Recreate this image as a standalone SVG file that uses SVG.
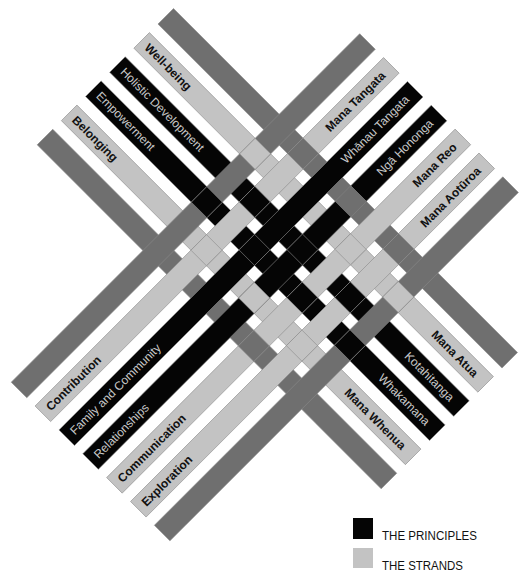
<svg xmlns="http://www.w3.org/2000/svg" width="520" height="571" viewBox="0 0 520 571">
  <style>
    .dg { fill: #6f6f6f; }
    .lt { fill: #c3c3c3; }
    .bk { fill: #050505; }
    .edge { stroke: #8c8c8c; stroke-width: 0.6; }
    .strand { font-family: "Liberation Sans", Arial, sans-serif; font-size: 12px; font-weight: bold; fill: #111; }
    .principle { font-family: "Liberation Sans", Arial, sans-serif; font-size: 12px; fill: #c9c9c9; }
    .key { font-family: "Liberation Sans", Arial, sans-serif; font-size: 12px; fill: #111; }
  </style>
  <rect width="520" height="571" fill="#fff"/>

  <!-- woven mat, drawn in a frame turned 45 degrees: x runs down-right, y runs down-left -->
  <g id="mat" transform="rotate(45)">
    <!-- strips running down-right -->
    <g id="strip-a0"><rect class="dg edge" x="128.7" y="-116.7" width="486.5" height="22"/></g>
    <g id="strip-a1"><rect class="lt edge" x="128.7" y="-82.6" width="486.5" height="22"/></g>
    <g id="strip-a2"><rect class="bk edge" x="128.7" y="-48.4" width="486.5" height="22"/></g>
    <g id="strip-a3"><rect class="bk edge" x="128.7" y="-14.3" width="486.5" height="22"/></g>
    <g id="strip-a4"><rect class="lt edge" x="128.7" y="19.9" width="486.5" height="22"/></g>
    <g id="strip-a5"><rect class="dg edge" x="128.7" y="54.1" width="486.5" height="22"/></g>

    <!-- strips running up-right, laid over the first set -->
    <g id="strip-b0"><rect class="dg edge" x="278.2" y="-230.5" width="22" height="492.8"/></g>
    <g id="strip-b1"><rect class="lt edge" x="311.9" y="-230.5" width="22" height="492.8"/></g>
    <g id="strip-b2"><rect class="bk edge" x="345.7" y="-230.5" width="22" height="492.8"/></g>
    <g id="strip-b3"><rect class="bk edge" x="379.4" y="-230.5" width="22" height="492.8"/></g>
    <g id="strip-b4"><rect class="lt edge" x="413.1" y="-230.5" width="22" height="492.8"/></g>
    <g id="strip-b5"><rect class="lt edge" x="446.9" y="-230.5" width="22" height="492.8"/></g>
    <g id="strip-b6"><rect class="dg edge" x="480.6" y="-230.5" width="22" height="492.8"/></g>

    <!-- crossings where the down-right strip comes back on top -->
    <g id="weave-over">
      <rect class="dg edge" x="311.9" y="-116.7" width="22" height="22"/>
      <rect class="dg edge" x="379.4" y="-116.7" width="22" height="22"/>
      <rect class="dg edge" x="446.9" y="-116.7" width="22" height="22"/>

      <rect class="lt edge" x="278.2" y="-82.6" width="22" height="22"/>
      <rect class="lt edge" x="413.1" y="-82.6" width="22" height="22"/>
      <rect class="lt edge" x="480.6" y="-82.6" width="22" height="22"/>

      <rect class="bk edge" x="311.9" y="-48.4" width="22" height="22"/>
      <rect class="bk edge" x="379.4" y="-48.4" width="22" height="22"/>
      <rect class="bk edge" x="446.9" y="-48.4" width="22" height="22"/>

      <rect class="bk edge" x="278.2" y="-14.3" width="22" height="22"/>
      <rect class="bk edge" x="345.7" y="-14.3" width="22" height="22"/>
      <rect class="bk edge" x="413.1" y="-14.3" width="22" height="22"/>
      <rect class="bk edge" x="480.6" y="-14.3" width="22" height="22"/>

      <rect class="lt edge" x="311.9" y="19.9" width="22" height="22"/>
      <rect class="lt edge" x="379.4" y="19.9" width="22" height="22"/>
      <rect class="lt edge" x="446.9" y="19.9" width="22" height="22"/>

      <rect class="dg edge" x="413.1" y="54.1" width="22" height="22"/>
    </g>

    <!-- labels on the down-right strips -->
    <g id="labels-a">
      <text class="strand" x="136" y="-67.4">Well-being</text>
      <text class="principle" x="136" y="-33.2">Holistic Development</text>
      <text class="principle" x="136" y="0.9">Empowerment</text>
      <text class="strand" x="136" y="35.1">Belonging</text>
      <text class="strand" x="602" y="-67.4" text-anchor="end">Mana Atua</text>
      <text class="principle" x="602" y="-33.2" text-anchor="end">Kotahitanga</text>
      <text class="principle" x="602" y="0.9" text-anchor="end">Whakamana</text>
      <text class="strand" x="602" y="35.1" text-anchor="end">Mana Whenua</text>
    </g>
  </g>

  <!-- labels on the up-right strips -->
  <g id="labels-b" transform="rotate(-45)">
    <text class="strand" x="-255" y="327.1">Contribution</text>
    <text class="principle" x="-255" y="360.9">Family and Community</text>
    <text class="principle" x="-255" y="394.6">Relationships</text>
    <text class="strand" x="-255" y="428.3">Communication</text>
    <text class="strand" x="-255" y="462.1">Exploration</text>
    <text class="strand" x="219" y="327.1" text-anchor="end">Mana Tangata</text>
    <text class="principle" x="219" y="360.9" text-anchor="end">Whānau Tangata</text>
    <text class="principle" x="219" y="394.6" text-anchor="end">Ngā Hononga</text>
    <text class="strand" x="219" y="428.3" text-anchor="end">Mana Reo</text>
    <text class="strand" x="219" y="462.1" text-anchor="end">Mana Aotūroa</text>
  </g>

  <!-- key -->
  <g id="key-principles">
    <rect class="bk" x="353" y="518" width="20" height="21"/>
    <text class="key" x="382" y="540" textLength="95" lengthAdjust="spacingAndGlyphs">THE PRINCIPLES</text>
  </g>
  <g id="key-strands">
    <rect class="lt" x="353" y="548" width="20" height="20"/>
    <text class="key" x="382" y="569.5" textLength="81" lengthAdjust="spacingAndGlyphs">THE STRANDS</text>
  </g>
</svg>
